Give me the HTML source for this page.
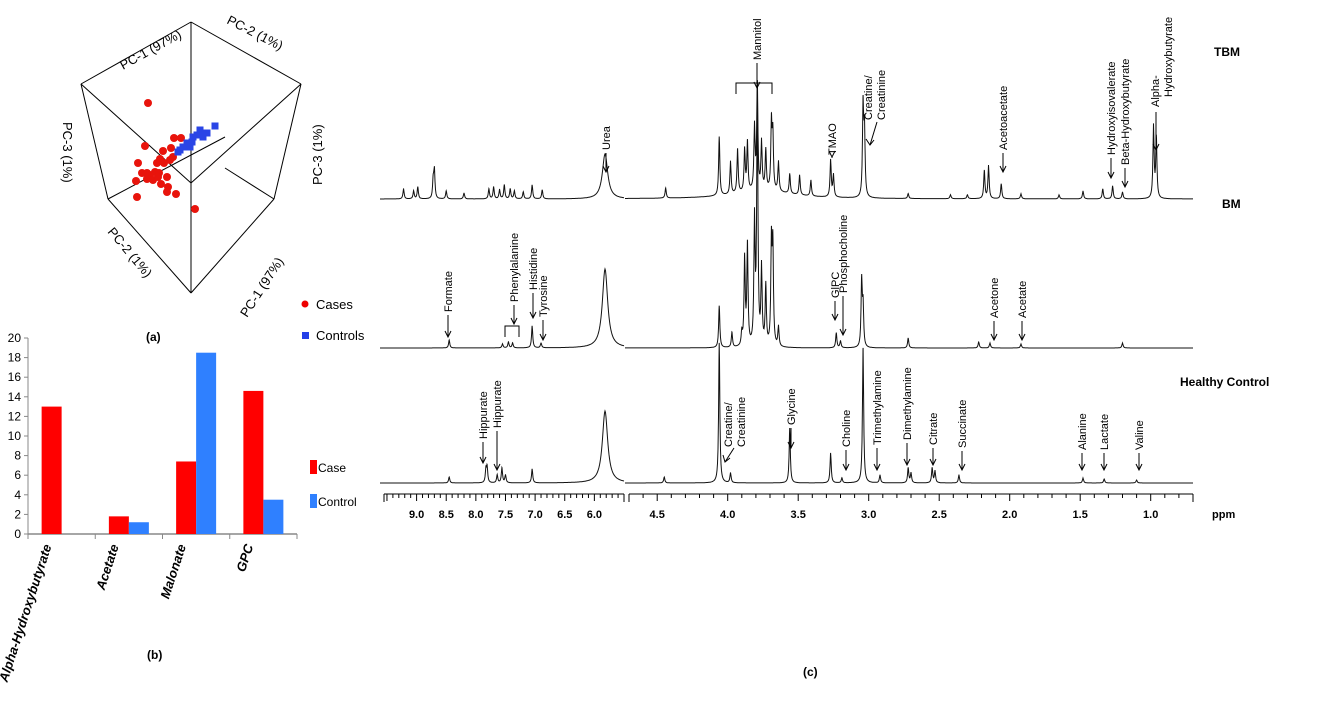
<!DOCTYPE html>
<html><head><meta charset="utf-8">
<style>
html,body{margin:0;padding:0;background:#fff;}
svg{display:block;font-family:"Liberation Sans",sans-serif;}
</style></head>
<body>
<svg id="fig" width="1332" height="719" viewBox="0 0 1332 719" xmlns="http://www.w3.org/2000/svg">
<g id="pca" stroke="#000" stroke-width="1" fill="none">
  <line x1="191" y1="22" x2="81" y2="84"/>
  <line x1="191" y1="22" x2="301" y2="84"/>
  <line x1="191" y1="22" x2="191" y2="293"/>
  <line x1="81" y1="84" x2="191" y2="183"/>
  <line x1="301" y1="84" x2="191" y2="183"/>
  <line x1="81" y1="84" x2="108" y2="199"/>
  <line x1="301" y1="84" x2="274" y2="199"/>
  <line x1="108" y1="199" x2="191" y2="293"/>
  <line x1="274" y1="199" x2="191" y2="293"/>
  <line x1="108" y1="199" x2="225" y2="137"/>
  <line x1="274" y1="199" x2="225" y2="168"/>
</g>
<g font-size="13" fill="#000">
  <text transform="translate(123,70) rotate(-29)">PC-1 (97%)</text>
  <text transform="translate(226,23) rotate(27)">PC-2 (1%)</text>
  <text transform="translate(63,122) rotate(90)">PC-3 (1%)</text>
  <text transform="translate(322,185) rotate(-90)">PC-3 (1%)</text>
  <text transform="translate(107,232) rotate(50)">PC-2 (1%)</text>
  <text transform="translate(247,318) rotate(-57)">PC-1 (97%)</text>
  <circle cx="305" cy="304" r="3.5" fill="#e00"/>
  <text x="316" y="309">Cases</text>
  <rect x="302" y="332" width="7" height="7" fill="#2440e8"/>
  <text x="316" y="340">Controls</text>
  <text x="146" y="341" font-weight="bold" font-size="12">(a)</text>
  <text x="147" y="659" font-weight="bold" font-size="12">(b)</text>
  <text x="803" y="676" font-weight="bold" font-size="12">(c)</text>
</g>
<g id="pcapts"></g>
<g id="bars"></g>
<g id="nmr"></g>
</svg>
<script>
var NS="http://www.w3.org/2000/svg";
function mk(tag,attrs,parent){var e=document.createElementNS(NS,tag);for(var k in attrs)e.setAttribute(k,attrs[k]);parent.appendChild(e);return e;}

// ---------- PCA scatter (projected score coordinates) ----------
var caseU=[148,174,181,145,163,171,138,157,160,164,170,142,147,150,155,159,147,153,158,136,167,161,168,167,176,137,195,173];
var caseV=[103,138,138,146,151,148,163,163,159,163,160,173,173,175,172,173,179,180,177,181,177,184,187,192,194,197,209,157];
var ctrlU=[215,200,207,203,193,192,187,183,180,178,190,197];
var ctrlV=[126,130,133,137,137,142,143,147,150,152,147,135];
var pu=function(u){return u;}, pv=function(v){return v;};
var pg=document.getElementById('pcapts');
for(var i=0;i<caseU.length;i++){
  var c=mk('circle',{cx:pu(caseU[i]),cy:pv(caseV[i]),r:4,fill:'#e8140c'},pg);
  
  
}
for(var i=0;i<ctrlU.length;i++){
  var r=mk('rect',{x:pu(ctrlU[i])-3.5,y:pv(ctrlV[i])-3.5,width:7,height:7,fill:'#2a45e6'},pg);
  
  
}

// ---------- Bar chart ----------
var barCats=["Alpha-Hydroxybutyrate","Acetate","Malonate","GPC"];
var caseVals=[13,1.8,7.4,14.6];
var ctrlVals=[0,1.2,18.5,3.5];
var yTicks=[0,2,4,6,8,10,12,14,16,18,20];
var bx0=28,bx1=297,by0=534,by1=338;
function ys(v){return by0-(v/20)*(by0-by1);}
var bw=(bx1-bx0)/barCats.length;
var bg=document.getElementById('bars');
var ax=mk('line',{x1:bx0,y1:by1,x2:bx0,y2:by0,stroke:'#888','stroke-width':1},bg);

var axx=mk('line',{x1:bx0,y1:by0,x2:bx1,y2:by0,stroke:'#888','stroke-width':1.5},bg);

yTicks.forEach(function(t){
  var tl=mk('line',{x1:bx0-4,y1:ys(t),x2:bx0,y2:ys(t),stroke:'#888'},bg);
  
  var tt=mk('text',{x:bx0-7,y:ys(t)+4,'text-anchor':'end','font-size':12,fill:'#000'},bg);
  tt.textContent=t;
  
});
for(var i=0;i<=barCats.length;i++){
  var tk=mk('line',{x1:bx0+i*bw,y1:by0,x2:bx0+i*bw,y2:by0+5,stroke:'#888'},bg);
  
}
barCats.forEach(function(c,i){
  var cx=bx0+i*bw+bw/2;
  var b1=mk('rect',{x:cx-20,y:ys(caseVals[i]),width:20,height:by0-ys(caseVals[i]),fill:'#ff0000'},bg);
  
  var b2=mk('rect',{x:cx,y:ys(ctrlVals[i]),width:20,height:by0-ys(ctrlVals[i]),fill:'#2f80ff'},bg);
  
  var lt=mk('text',{transform:'translate('+(cx-10)+','+(by0+12)+') rotate(-72)','text-anchor':'end','font-size':13,'font-weight':'bold','font-style':'italic'},bg);
  lt.textContent=c;
  
});
var l1=mk('rect',{x:310,y:460,width:7,height:14,fill:'#ff0000'},bg);

var l1t=mk('text',{x:318,y:472,'font-size':12},bg);l1t.textContent='Case';

var l2=mk('rect',{x:310,y:494,width:7,height:14,fill:'#2f80ff'},bg);

var l2t=mk('text',{x:318,y:506,'font-size':12},bg);l2t.textContent='Control';


// ---------- NMR spectra ----------
var tbmPpm=[9.22,9.05,8.98,8.72,8.70,8.5,8.2,7.78,7.7,7.6,7.52,7.42,7.35,7.2,7.05,6.88,5.82,
 4.44,4.06,3.98,3.93,3.88,3.86,3.81,3.79,3.76,3.73,3.69,3.68,3.64,3.56,3.49,3.41,3.27,3.25,3.04,3.03,2.72,2.42,2.3,2.18,2.15,2.06,1.92,1.65,1.48,1.34,1.27,1.20,0.98,0.96];
var tbmH=[10,8,12,18,28,8,6,10,12,9,14,10,8,7,14,9,45,
 10,59,33,44,42,49,63,105,48,40,66,55,30,20,20,16,37,22,90,66,5,4,4,28,33,15,5,4,8,10,13,7,72,60];
var bmPpm=[8.45,7.55,7.45,7.38,7.05,6.9,5.82,4.06,3.97,3.9,3.88,3.86,3.81,3.79,3.76,3.73,3.69,3.68,3.64,3.23,3.20,3.05,3.04,2.72,2.22,2.14,1.92,1.20];
var bmH=[8,4,6,5,22,5,79,42,15,13,87,100,123,257,77,60,100,97,20,15,7,66,40,10,6,5,4,5];
var hcPpm=[8.45,7.83,7.81,7.64,7.56,7.5,7.05,5.82,4.45,4.06,3.98,3.56,3.27,3.19,3.04,2.92,2.72,2.70,2.55,2.53,2.36,1.48,1.33,1.10];
var hcH=[6,13,15,8,15,8,14,72,6,140,10,55,30,5,135,8,15,10,15,12,8,5,4,3];
var ppmLabels=["9.0","8.5","8.0","7.5","7.0","6.5","6.0"];
var ppmLabels2=["4.5","4.0","3.5","3.0","2.5","2.0","1.5","1.0"];

var segA={p0:9.55,p1:5.5,x0:384,x1:624};
var segB={p0:4.70,p1:0.70,x0:629,x1:1193};
function xs(seg,p){return seg.x0+(seg.p0-p)/(seg.p0-seg.p1)*(seg.x1-seg.x0);}
var ng=document.getElementById('nmr');

function trace(ppms,hs,base,name,hump){
  [segA,segB].forEach(function(seg){
    var pts=[];
    var pxs=[];
    for(var x=seg.x0-4;x<=seg.x1;x+=0.5)pxs.push(x);
    ppms.forEach(function(p){ if(p<=seg.p0&&p>=seg.p1)pxs.push(xs(seg,p)); });
    pxs.sort(function(a,b){return a-b;});
    pxs.forEach(function(x){
      var y=0;
      for(var i=0;i<ppms.length;i++){
        var px=xs(seg,ppms[i]);
        var g=(ppms[i]>5.5&&ppms[i]<6)?3.2:0.7;
        var d=(x-px)/g;
        y+=hs[i]/(1+d*d);
      }
      if(hump&&seg===segB){var d2=(x-xs(seg,3.75))/35;y+=hump/(1+d2*d2);}
      pts.push(x.toFixed(1)+','+(base-y).toFixed(1));
    });
    var p=mk('polyline',{points:pts.join(' '),fill:'none',stroke:'#111','stroke-width':1},ng);
    
    
  });
}
trace(tbmPpm,tbmH,199,'tbm',8);
trace(bmPpm,bmH,348,'bm',0);
trace(hcPpm,hcH,483,'healthy-control',0);

function axis(seg,labels,step){
  var a=mk('line',{x1:seg.x0,y1:494,x2:seg.x1,y2:494,stroke:'#000','stroke-width':1},ng);
  
  for(var p=Math.floor(seg.p0*step)/step;p>=seg.p1;p-=1/step){
    var x=xs(seg,p);var major=Math.abs(p*2-Math.round(p*2))<1e-6;
    var t=mk('line',{x1:x,y1:494,x2:x,y2:major?501:498,stroke:'#000'},ng);
    
  }
  [seg.x0,seg.x1].forEach(function(x){var e=mk('line',{x1:x,y1:494,x2:x,y2:502,stroke:'#000'},ng);
    });
  labels.forEach(function(l){
    var t=mk('text',{x:xs(seg,parseFloat(l)),y:518,'text-anchor':'middle','font-size':11,'font-weight':'bold'},ng);
    t.textContent=l;
  });
}
axis(segA,ppmLabels,10);
axis(segB,ppmLabels2,10);
var ppmT=mk('text',{x:1212,y:518,'font-size':11,'font-weight':'bold'},ng);ppmT.textContent='ppm';


var annX=[606,757,832,1003,1111,1125,448,533,543,835,843,994,1022,483,497,791,846,877,907,933,962,1082,1104,1139,514];
var annY=[150,60,155,150,155,165,312,290,317,298,293,318,318,439,428,425,447,445,440,445,448,450,450,450,302];
var annA=[172,88,157,172,178,187,337,318,340,320,335,340,340,463,470,448,470,470,465,465,470,470,470,470,334];
var annT=["Urea","Mannitol","TMAO","Acetoacetate","Hydroxyisovalerate","Beta-Hydroxybutyrate","Formate","Histidine","Tyrosine","GlPC","Phosphocholine","Acetone","Acetate","Hippurate","Hippurate","Glycine","Choline","Trimethylamine","Dimethylamine","Citrate","Succinate","Alanine","Lactate","Valine","Phenylalanine"];
function arrow(x,y1,y2){
  var l=mk('line',{x1:x,y1:y1,x2:x,y2:y2,stroke:'#000','stroke-width':1},ng);
  
  var h=mk('path',{d:'M'+(x-3)+','+(y2-6)+' L'+x+','+y2+' L'+(x+3)+','+(y2-6),fill:'none',stroke:'#000'},ng);
  
}
for(var i=0;i<annT.length;i++){
  var t=mk('text',{transform:'translate('+(annX[i]+4)+','+annY[i]+') rotate(-90)','font-size':11},ng);
  t.textContent=annT[i];
  
  if(annT[i]!=="Phenylalanine")arrow(annX[i],annY[i]+3,annA[i]);
  else arrow(annX[i],annY[i]+3,324);
}
var pb=mk('path',{d:'M505,337 L505,326 L519,326 L519,337',fill:'none',stroke:'#000'},ng);

var mb=mk('path',{d:'M736,94 L736,83 L772,83 L772,94',fill:'none',stroke:'#000'},ng);

function twoLine(x,y,y2,a,b,name){
  var t1=mk('text',{transform:'translate('+(x+4)+','+y+') rotate(-90)','font-size':11},ng);t1.textContent=a;
  
  var t2=mk('text',{transform:'translate('+(x+17)+','+y2+') rotate(-90)','font-size':11},ng);t2.textContent=b;
  
}
twoLine(868,120,120,"Creatine/","Creatinine","tbm-creatine-label");
var d1=mk('path',{d:'M877,122 L870,145 M866,139 L870,145 L874,140',fill:'none',stroke:'#000'},ng);

twoLine(728,447,447,"Creatine/","Creatinine","hc-creatine-label");
var d2=mk('path',{d:'M734,448 L725,462 M723,455 L725,462 L730,458',fill:'none',stroke:'#000'},ng);

twoLine(1155,107,97,"Alpha-","Hydroxybutyrate","alpha-hydroxybutyrate-label");
arrow(1156,112,150);
[["TBM",1214,56],["BM",1222,208],["Healthy Control",1180,386]].forEach(function(g){
  var t=mk('text',{x:g[1],y:g[2],'font-size':12,'font-weight':'bold'},ng);t.textContent=g[0];
  
});
</script>
</body></html>
